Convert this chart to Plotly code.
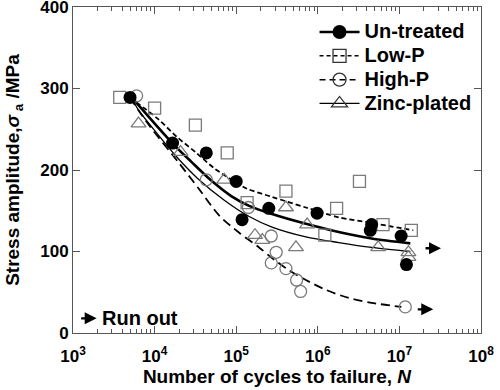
import plotly.graph_objects as go

# ---------------- data ----------------
untreated_N = [5000, 16600, 43000, 100000, 118000, 251000, 980000, 4.57e6, 4.4e6, 1.05e7, 1.22e7]
untreated_S = [289, 233, 221, 186, 139, 153, 147, 133, 126, 119, 84]

lowp_N = [3740, 10000, 31600, 77600, 136000, 407000, 1.7e6, 3.24e6, 6.3e6, 1.22e6, 1.4e7]
lowp_S = [289, 276, 255, 221, 160, 174, 153, 186, 133, 120, 126]

highp_N = [6020, 43000, 141000, 269000, 309000, 269000, 407000, 550000, 616000, 1.18e7]
highp_S = [291, 188, 154, 119, 99, 86, 79, 65, 51, 32]

zinc_N = [6360, 20800, 71300, 407000, 170000, 209000, 540000, 740000, 5.5e6, 1.29e7, 1.29e7]
zinc_S = [257, 222, 188, 154, 120, 114, 105, 133, 105, 99, 93]

# fitted S-N curves (sampled along the drawn curves)
untreated_fit_N = [5250, 16100, 28250, 49550, 86900, 144200, 274800, 714500, 1.803e6, 4.56e6, 1.361e7]
untreated_fit_S = [289, 234, 210, 187, 168, 156, 146, 134, 124, 116, 110]

lowp_fit_N = [4955, 10890, 19050, 32510, 53950, 94620, 136100, 274800, 714500, 1.803e6, 4.56e6, 1.479e7]
lowp_fit_S = [289, 263, 240, 221, 202, 186, 177, 167, 154, 142, 135, 126]

highp_fit_N = [4955, 8690, 19050, 35400, 62100, 108900, 190500, 274800, 442600, 714500,
               1.253e6, 2.388e6, 4.56e6, 1.057e7]
highp_fit_S = [289, 254, 211, 176, 144, 123, 105, 92, 77, 65, 53, 43, 37, 32]

zinc_fit_N = [5250, 6210, 10890, 19050, 33420, 71450, 144200, 274800, 714500, 1.803e6, 4.56e6, 1.361e7]
zinc_fit_S = [289, 275, 244, 215, 190, 163, 143, 130, 118, 111, 105, 100]

x_ticks = [1e3, 1e4, 1e5, 1e6, 1e7, 1e8]
x_tick_text = ["10<sup>3</sup>", "10<sup>4</sup>", "10<sup>5</sup>", "10<sup>6</sup>",
               "10<sup>7</sup>", "10<sup>8</sup>"]
y_ticks = [0, 100, 200, 300, 400]

FONT = "Liberation Sans"
GRAY = "#7a7a7a"

fig = go.Figure()

# curves
fig.add_trace(go.Scatter(x=lowp_fit_N, y=lowp_fit_S, mode="lines", showlegend=False,
                         line=dict(color="black", width=1.8, dash="5px,3px", shape="spline", smoothing=0.8)))
fig.add_trace(go.Scatter(x=highp_fit_N, y=highp_fit_S, mode="lines", showlegend=False,
                         line=dict(color="black", width=1.8, dash="9px,5px", shape="spline", smoothing=0.8)))
fig.add_trace(go.Scatter(x=zinc_fit_N, y=zinc_fit_S, mode="lines", showlegend=False,
                         line=dict(color="black", width=1.3, shape="spline", smoothing=0.8)))
fig.add_trace(go.Scatter(x=untreated_fit_N, y=untreated_fit_S, mode="lines", showlegend=False,
                         line=dict(color="black", width=2.6, shape="spline", smoothing=0.8)))

# markers
fig.add_trace(go.Scatter(x=lowp_N, y=lowp_S, mode="markers", showlegend=False,
                         marker=dict(symbol="square-open", size=12, color=GRAY, line=dict(width=1.3))))
fig.add_trace(go.Scatter(x=highp_N, y=highp_S, mode="markers", showlegend=False,
                         marker=dict(symbol="circle-open", size=12, color=GRAY, line=dict(width=1.3))))
fig.add_trace(go.Scatter(x=zinc_N, y=zinc_S, mode="markers", showlegend=False,
                         marker=dict(symbol="triangle-up-open", size=13, color=GRAY, line=dict(width=1.3))))
fig.add_trace(go.Scatter(x=untreated_N, y=untreated_S, mode="markers", showlegend=False,
                         marker=dict(symbol="circle", size=13, color="black")))

# legend entries
def lg(name):
    return '<span style="font-size:20px">' + name + '</span>'

fig.add_trace(go.Scatter(x=[None], y=[None], mode="lines+markers", name=lg("Un-treated"),
                         line=dict(color="black", width=2.6),
                         marker=dict(symbol="circle", size=14, color="black")))
fig.add_trace(go.Scatter(x=[None], y=[None], mode="lines+markers", name=lg("Low-P"),
                         line=dict(color="black", width=1.5, dash="4px,3px"),
                         marker=dict(symbol="square-open", size=13, color="#333", line=dict(width=1.3))))
fig.add_trace(go.Scatter(x=[None], y=[None], mode="lines+markers", name=lg("High-P"),
                         line=dict(color="black", width=1.5, dash="6px,4px"),
                         marker=dict(symbol="circle-open", size=13, color="#333", line=dict(width=1.3))))
fig.add_trace(go.Scatter(x=[None], y=[None], mode="lines+markers", name=lg("Zinc-plated"),
                         line=dict(color="black", width=1.3),
                         marker=dict(symbol="triangle-up-open", size=14, color="#333", line=dict(width=1.3))))

# dotted box around run-out points near 1e7
fig.add_shape(type="rect", xref="x", yref="y", x0=6.94, x1=7.28, y0=76, y1=136,
              line=dict(color="black", width=1.5, dash="dot"), layer="above")

anns = []
# run-out arrows
for xt, yt in [(7.51, 104), (7.415, 29), (3.29, 18)]:
    anns.append(dict(x=xt, y=yt, xref="x", yref="y", ax=-17, ay=0, text="",
                     showarrow=True, arrowhead=2, arrowsize=1.0, arrowwidth=2.4, arrowcolor="black"))
anns.append(dict(x=3.33, y=18, xref="x", yref="y", text="Run out", showarrow=False,
                 xanchor="left", yanchor="middle",
                 font=dict(family=FONT, size=20, color="black", weight="bold")))

fig.update_layout(
    width=500, height=390,
    margin=dict(l=73, r=17, t=6, b=57),
    paper_bgcolor="white", plot_bgcolor="white",
    font=dict(family=FONT, color="black", weight="bold"),
    annotations=anns,
    legend=dict(x=0.592, y=0.975, xanchor="left", yanchor="top",
                bgcolor="rgba(0,0,0,0)", borderwidth=0,
                font=dict(family=FONT, size=16, color="black", weight="bold"),
                itemwidth=40, tracegroupgap=0),
)

fig.update_xaxes(
    type="log", range=[3, 8], tickvals=x_ticks, ticktext=x_tick_text,
    ticks="inside", ticklen=7, tickwidth=1, tickcolor="#555", ticklabelstandoff=8,
    showline=True, linecolor="#555", linewidth=1, mirror="ticks", showgrid=False, zeroline=False,
    minor=dict(ticks="inside", ticklen=4, tickcolor="#555", dtick="D1", showgrid=False),
    tickfont=dict(family=FONT, size=17, color="black", weight="bold"),
    title=dict(text="Number of cycles to failure, <i>N</i>", standoff=1,
               font=dict(family=FONT, size=19, color="black", weight="bold")),
)
fig.update_yaxes(
    range=[0, 400], tickvals=y_ticks, ticklabeloverflow="allow", automargin="left",
    ticks="inside", ticklen=7, tickwidth=1, tickcolor="#555",
    showline=True, linecolor="#555", linewidth=1, mirror="ticks", showgrid=False, zeroline=False,
    tickfont=dict(family=FONT, size=17, color="black", weight="bold"),
    title=dict(text="Stress amplitude,<i>σ</i><sub> a</sub> /MPa", standoff=15,
               font=dict(family=FONT, size=19, color="black", weight="bold")),
)

fig.write_html("out.html", config={"displayModeBar": False},
               post_script="document.body.style.margin='0';document.body.style.overflow='hidden';")
